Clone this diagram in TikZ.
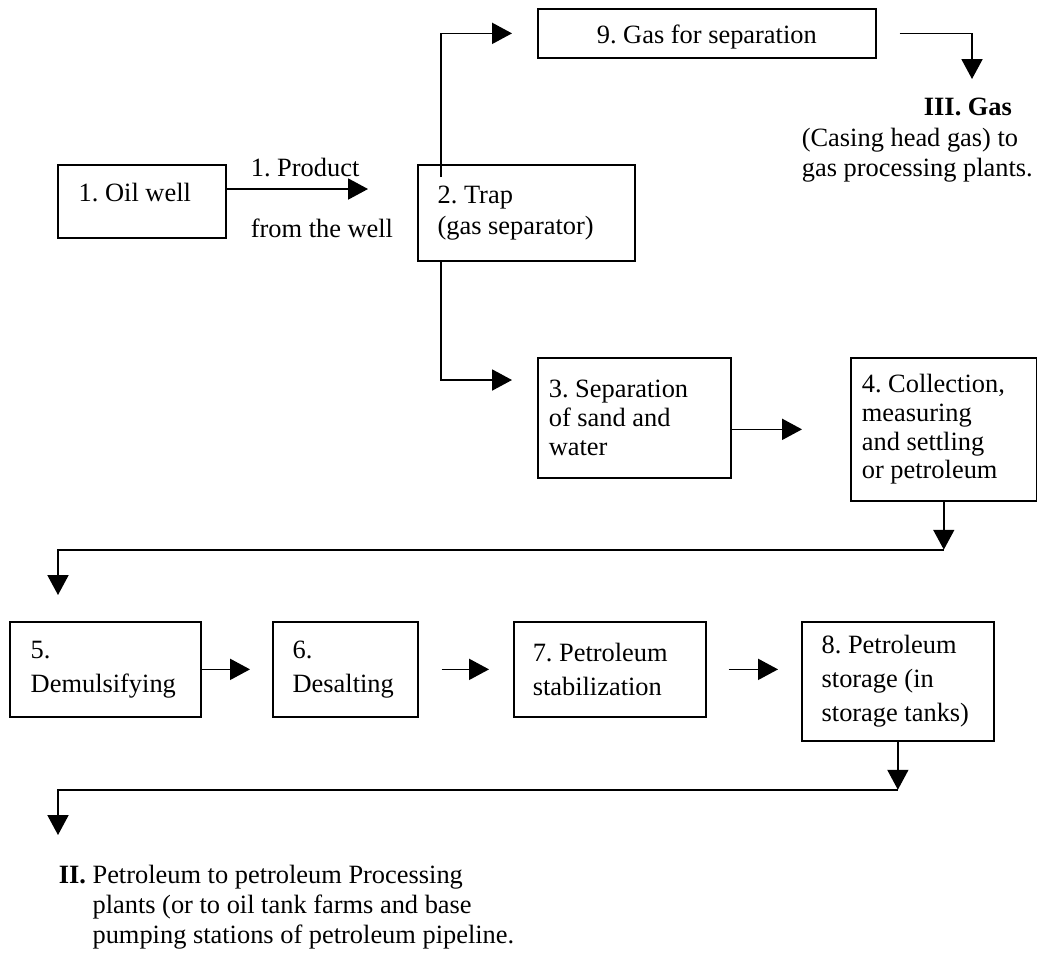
\documentclass[tikz,border=0pt]{standalone}
\usepackage{fontspec}
\setmainfont{Liberation Serif}
\usetikzlibrary{positioning,calc,arrows.meta}

\begin{document}
\frenchspacing
\begin{tikzpicture}[
    x=0.4545pt, y=-0.4545pt,
    font=\fontsize{12}{14}\selectfont,
    line width=0.75pt,
    stage/.style={rectangle,draw,anchor=north west,align=flush left,inner xsep=9pt,inner ysep=0pt},
    stagec/.style={stage,align=flush center,inner xsep=0pt},
    tight/.style={font=\fontsize{12}{13}\selectfont},
    loose/.style={font=\fontsize{12}{15.5}\selectfont},
    flow/.style={-{Triangle[length=9pt,width=9.5pt]}},
    note/.style={anchor=north west,align=left,inner sep=0pt}
  ]
  \useasboundingbox (0,0) rectangle (1037,952);

  % upper part
  \node(b1) [stage,inner xsep=9.5pt,text width=57.4pt,minimum height=33.2pt,text depth=8.5pt] at (57,164) {1. Oil well};
  \node(b2) [stage,text width=80.6pt,minimum height=43.6pt] at (417,164) {2. Trap\\(gas separator)};
  \node(b9) [stagec,text width=153.6pt,minimum height=22.3pt,text height=11.5pt,text depth=2.6pt] at (537,8) {9. Gas for separation};
  \node(b3) [stage,tight,inner xsep=5pt,text width=77.7pt,minimum height=54.5pt] at (537,357) {3. Separation\\of sand and\\water};
  \node(b4) [stage,tight,inner xsep=5pt,text width=74.5pt,minimum height=65pt] at (850,357) {4. Collection,\\measuring\\and settling\\or petroleum};

  \node(prod) [anchor=base west,inner sep=0pt] at (250,176) {1. Product};
  \node(well) [anchor=base west,inner sep=0pt] at (250,237) {from the well};
  \node(gas) [note] at (801,97) {\hspace*{55.5pt}\textbf{III. Gas}\\(Casing head gas) to\\gas processing plants.};

  % lower row
  \node(b5) [stage,loose,inner xsep=9.5pt,text width=67.8pt,minimum height=43.2pt] at (9,621) {5.\\Demulsifying};
  \node(b6) [stage,loose,text width=47.9pt,minimum height=43.2pt] at (272,621) {6.\\Desalting};
  \node(b7) [stage,loose,inner xsep=8.6pt,text width=70.1pt,minimum height=43.2pt] at (513,621) {7. Petroleum\\stabilization};
  \node(b8) [stage,loose,text width=69.3pt,minimum height=54.1pt] at (801,621) {8. Petroleum\\storage (in\\storage tanks)};

  \node(out) [note,font=\fontsize{12}{13.6}\selectfont] at (58,864) {\textbf{II.} Petroleum to petroleum Processing\\\phantom{\textbf{II.} }plants (or to oil tank farms and base\\\phantom{\textbf{II.} }pumping stations of petroleum pipeline.};

  % connectors
  \draw[flow] ($(b1.north east)+(0,25)$) -- ($(b2.north west)+(-49,25)$);
  \draw[flow] ($(b2.north west)+(24,13)$) |- ($(b9.west)+(-25,0)$);
  \draw[flow] ($(b9.east)+(23,0)$) -| ($(gas.north west)+(171,-18)$);
  \draw[flow] ($(b2.south west)+(24,0)$) |- ($(b3.north west)+(-25,23)$);
  \draw[flow] (b3.east |- b4.west) -- ($(b4.west)+(-48,0)$);

  \draw[flow] (b4.south) -- ++(0,48) coordinate(j1);
  \draw[flow] (j1) -| ($(b5.north west)+(49,-26)$);
  \draw[flow] (b5.east) -- ($(b6.west)+(-22,0)$);
  \draw[flow] ($(b6.east)+(23,0)$) -- ($(b7.west)+(-24,0)$);
  \draw[flow] ($(b7.east)+(22,0)$) -- ($(b7.east -| b8.west)+(-23,0)$);
  \draw[flow] (b8.south) -- ++(0,48) coordinate(j2);
  \draw[flow] (j2) -| ($(out.north west)+(0,-29)$);

\end{tikzpicture}
\end{document}
